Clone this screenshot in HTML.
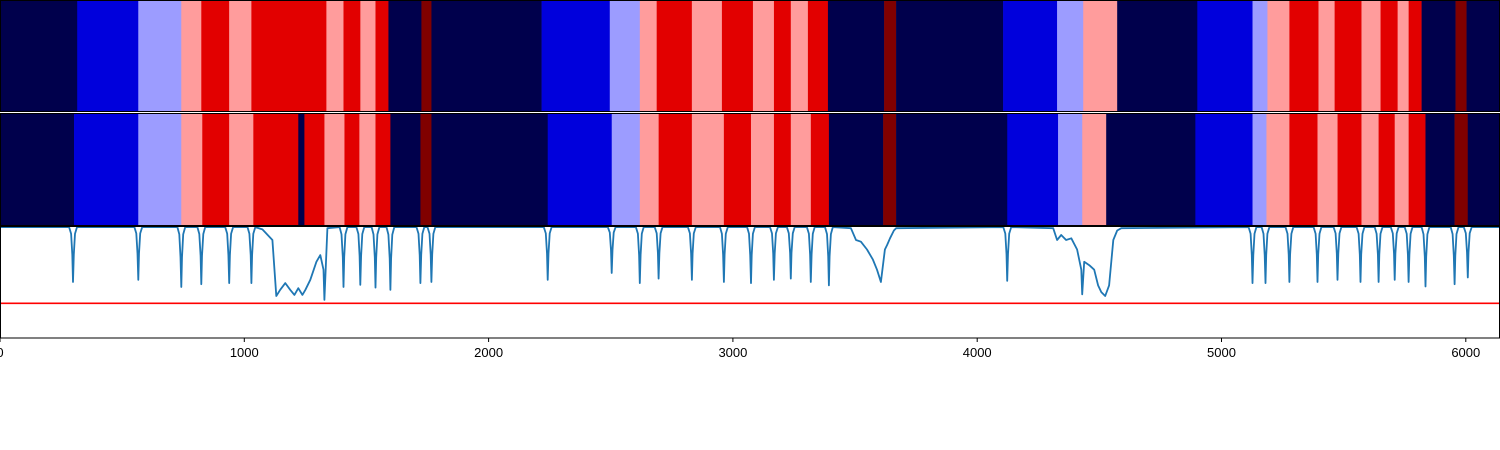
<!DOCTYPE html>
<html><head><meta charset="utf-8"><style>
html,body{margin:0;padding:0;background:#fff;}
svg{display:block;font-family:"Liberation Sans",sans-serif;}
</style></head><body>
<svg id="chart" width="1500" height="450" viewBox="0 0 1500 450" xmlns="http://www.w3.org/2000/svg">
<g id="row1"></g>
<g id="row2"></g>
<g id="plot"></g>
<g id="axis"></g>
</svg>
<script>
const xMax = 6140;
const palette = ["#00004c","#0000dc","#9c9cff","#ff9c9c","#e20000","#800000"];
const row1Starts = [0,316,566,742,824,938,1029,1336,1406,1475,1537,1590,1725,1766,2217,2496,2619,2688,2832,2955,3082,3168,3237,3307,3389,3619,3668,4106,4327,4434,4573,4901,5127,5188,5278,5397,5463,5573,5651,5721,5766,5819,5958,6003];
const row1Classes = [0,1,2,3,4,3,4,3,4,3,4,0,5,0,1,2,3,4,3,4,3,4,3,4,0,5,0,1,2,3,0,1,2,3,4,3,4,3,4,3,4,0,5,0];
const row2Starts = [0,303,566,742,828,938,1037,1221,1246,1328,1410,1471,1537,1598,1721,1766,2242,2504,2619,2696,2832,2963,3074,3168,3237,3319,3393,3615,3668,4123,4331,4430,4528,4893,5127,5184,5278,5393,5475,5573,5643,5709,5766,5835,5954,6008];
const row2Classes = [0,1,2,3,4,3,4,0,4,3,4,3,4,0,5,0,1,2,3,4,3,4,3,4,3,4,0,5,0,1,2,3,0,1,2,3,4,3,4,3,4,3,4,0,5,0];
const baseline = 0.99;
const dipX = [299,566,742,824,938,1029,1406,1475,1537,1598,1721,1766,2242,2504,2619,2696,2832,2963,3074,3168,3237,3319,3393,4123,5127,5180,5278,5393,5475,5569,5643,5709,5766,5835,5954,6008];
const dipY = [0.5,0.52,0.455,0.48,0.49,0.49,0.455,0.475,0.45,0.43,0.49,0.5,0.52,0.58,0.49,0.53,0.52,0.5,0.49,0.52,0.53,0.5,0.47,0.51,0.49,0.49,0.5,0.5,0.52,0.5,0.5,0.52,0.5,0.46,0.48,0.54];
const noiseX = [1074,1115,1131,1147,1168,1188,1205,1221,1238,1250,1270,1295,1311,1324,1328,1340,
 3483,3504,3524,3549,3573,3590,3606,3622,3631,3643,3659,3668,
 4311,4327,4344,4364,4385,4409,4426,4430,4438,4459,4479,4495,4508,4524,4540,4557,4573,4590];
const noiseY = [0.97,0.875,0.375,0.43,0.49,0.43,0.385,0.445,0.385,0.43,0.52,0.68,0.74,0.61,0.34,0.98,
 0.98,0.875,0.86,0.79,0.70,0.61,0.50,0.79,0.83,0.89,0.96,0.98,
 0.98,0.875,0.92,0.875,0.89,0.79,0.61,0.39,0.68,0.65,0.61,0.47,0.41,0.375,0.47,0.875,0.96,0.98];
const threshold = 0.31;
const xTicks = [0,1000,2000,3000,4000,5000,6000];
const xTickLabels = ["0","1000","2000","3000","4000","5000","6000"];

const NS="http://www.w3.org/2000/svg";
const W=1500;
const xs = v => v / xMax * W;
const PT=226, PB=338;
const ys = v => PB - v * (PB-PT);
function mk(tag, attrs, parent){const e=document.createElementNS(NS,tag);for(const k in attrs)e.setAttribute(k,attrs[k]);parent.appendChild(e);return e;}

function band(gid, starts, classes, y0, y1){
  const g=document.getElementById(gid);
  for(let i=0;i<starts.length;i++){
    const x0=xs(starts[i]), x1 = i+1<starts.length? xs(starts[i+1]) : W;
    const r=mk('rect',{x:x0,y:y0,width:Math.max(0,x1-x0)+0.3,height:y1-y0,fill:palette[classes[i]]},g);
    
    
  }
  const f=mk('rect',{x:0.5,y:y0+0.5,width:W-1,height:y1-y0-1,fill:'none',stroke:'#000','stroke-width':1},g);
  
  
}
band('row1',row1Starts,row1Classes,0,112);
band('row2',row2Starts,row2Classes,113,226);

const plot=document.getElementById('plot');
let pts=[[0,baseline],[xMax,baseline]];
for(let i=0;i<dipX.length;i++){pts.push([dipX[i]-16,baseline]);pts.push([dipX[i]-8,baseline-(baseline-dipY[i])*0.12]);pts.push([dipX[i]-3,baseline-(baseline-dipY[i])*0.5]);pts.push([dipX[i],dipY[i]]);pts.push([dipX[i]+3,baseline-(baseline-dipY[i])*0.5]);pts.push([dipX[i]+8,baseline-(baseline-dipY[i])*0.12]);pts.push([dipX[i]+16,baseline]);}
for(let i=0;i<noiseX.length;i++)pts.push([noiseX[i],noiseY[i]]);
pts.sort((a,b)=>a[0]-b[0]);
const d=pts.map((p,i)=>(i?'L':'M')+xs(p[0]).toFixed(1)+','+ys(p[1]).toFixed(1)).join('');
const line=mk('path',{d:d,fill:'none',stroke:'#1f77b4','stroke-width':1.8,'stroke-linejoin':'round'},plot);


const th=mk('line',{x1:0,x2:W,y1:ys(threshold),y2:ys(threshold),stroke:'#ff0000','stroke-width':1.6},plot);


const pf=mk('rect',{x:0.5,y:PT+0.5,width:W-1,height:PB-PT-0.5,fill:'none',stroke:'#000','stroke-width':1},plot);



const ax=document.getElementById('axis');
for(let i=0;i<xTicks.length;i++){
  const x=xs(xTicks[i]);
  const t=mk('line',{x1:x,x2:x,y1:PB,y2:PB+4,stroke:'#000','stroke-width':1},ax);
  
  
  const lb=mk('text',{x:x,y:357,'text-anchor':'middle','font-size':13,fill:'#000'},ax);
  lb.textContent=xTickLabels[i];
  
  
}
</script>
</body></html>
